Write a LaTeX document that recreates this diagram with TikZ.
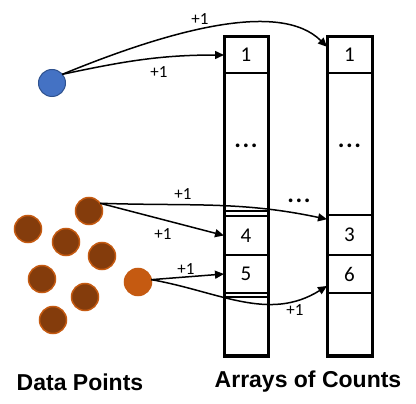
\documentclass[tikz,border=0pt]{standalone}
\usepackage{fontspec}
\setmainfont{Carlito}
\newfontfamily\labfont{Liberation Sans}
\usetikzlibrary{arrows.meta}
\definecolor{bluefill}{HTML}{4472C4}
\definecolor{blueline}{HTML}{2F528F}
\definecolor{brownfill}{HTML}{843C0C}
\definecolor{orangefill}{HTML}{C55A11}
\newcommand{\tdots}{.\kern1.6pt.\kern1.6pt.}
\tikzset{
  cell/.style={draw, rectangle, line width=1.5pt, inner sep=0pt, outer sep=0pt, font=\fontsize{21}{21}\selectfont},
  col/.style={draw, line width=3pt},
  dot/.style={circle, draw, line width=1.5pt, minimum size=27pt, inner sep=0pt, outer sep=0pt},
  bluedot/.style={dot, fill=bluefill, draw=blueline, line width=1pt},
  browndot/.style={dot, fill=brownfill, draw=orangefill},
  orangedot/.style={dot, fill=orangefill, draw=orangefill},
  arr/.style={-{Triangle[length=9pt,width=8pt]}, line width=1.5pt},
  inc/.style={font=\fontsize{17}{17}\selectfont, inner sep=0pt},
  dots/.style={font=\bfseries\fontsize{25}{25}\selectfont, inner sep=0pt},
  title/.style={font=\labfont\bfseries\fontsize{23}{23}\selectfont, inner sep=0pt}
}
\begin{document}
\begin{tikzpicture}[x=1pt,y=1pt]
\useasboundingbox (0,0) rectangle (416,-404);
% column 1
\node[cell, minimum width=44pt, minimum height=36pt] (A1) at (246,-55) {1};
\node[cell, minimum width=44pt, minimum height=138pt] (A2) at (246,-142) {};
\node[cell, minimum width=44pt, minimum height=39pt] (A3) at (246,-235.5) {4};
\node[cell, minimum width=44pt, minimum height=38pt] (A4) at (246,-274) {5};
\node[cell, minimum width=44pt, minimum height=59pt] (A5) at (246,-326.5) {};
\draw[col] (A1.north west) rectangle (A5.south east);
\node[dots] (A2d) at (246,-146) {\tdots};
% column 2
\node[cell, minimum width=45pt, minimum height=36pt] (B1) at (349.5,-55) {1};
\node[cell, minimum width=45pt, minimum height=142pt] (B2) at (349.5,-144) {};
\node[cell, minimum width=45pt, minimum height=40pt] (B3) at (349.5,-235) {3};
\node[cell, minimum width=45pt, minimum height=38pt] (B4) at (349.5,-274) {6};
\node[cell, minimum width=45pt, minimum height=63pt] (B5) at (349.5,-324.5) {};
\draw[col] (B1.north west) rectangle (B5.south east);
\node[dots] (B2d) at (349.5,-146) {\tdots};
\node[dots] (mid) at (299,-201) {\tdots};
% data points
\node[bluedot] (p0) at (52,-83) {};
\node[browndot] (p1) at (89,-211) {};
\node[browndot] (p2) at (28,-229) {};
\node[browndot] (p3) at (66,-242) {};
\node[browndot] (p4) at (102,-256) {};
\node[browndot] (p5) at (42,-279) {};
\node[browndot] (p6) at (85,-297) {};
\node[browndot] (p7) at (53,-320) {};
\node[orangedot] (q) at (138,-282) {};
% arrows
\draw[arr] (p0.40) to[out=12, in=180] (A1.west);
\draw[arr] (p0.40) .. controls (170,-30) and (280,0) .. (B1.160);
\draw[arr] (p1.35) -- (A3.west);
\draw[arr] (p1.35) to[out=-2, in=168] (B3.145);
\draw[arr] (q.10) -- (A4.west);
\draw[arr] (q.10) to[out=-10, in=212] (B4.208);
% labels
\node[inc] (l1) at (200,-19) {+1};
\node[inc] (l2) at (159,-72) {+1};
\node[inc] (l3) at (183,-194) {+1};
\node[inc] (l4) at (163,-234) {+1};
\node[inc] (l5) at (186,-269) {+1};
\node[inc] (l6) at (295,-310) {+1};
\node[title] (t1) at (80,-382) {Data Points};
\node[title] (t2) at (308,-382) {Arrays of Counts};
\end{tikzpicture}
\end{document}
